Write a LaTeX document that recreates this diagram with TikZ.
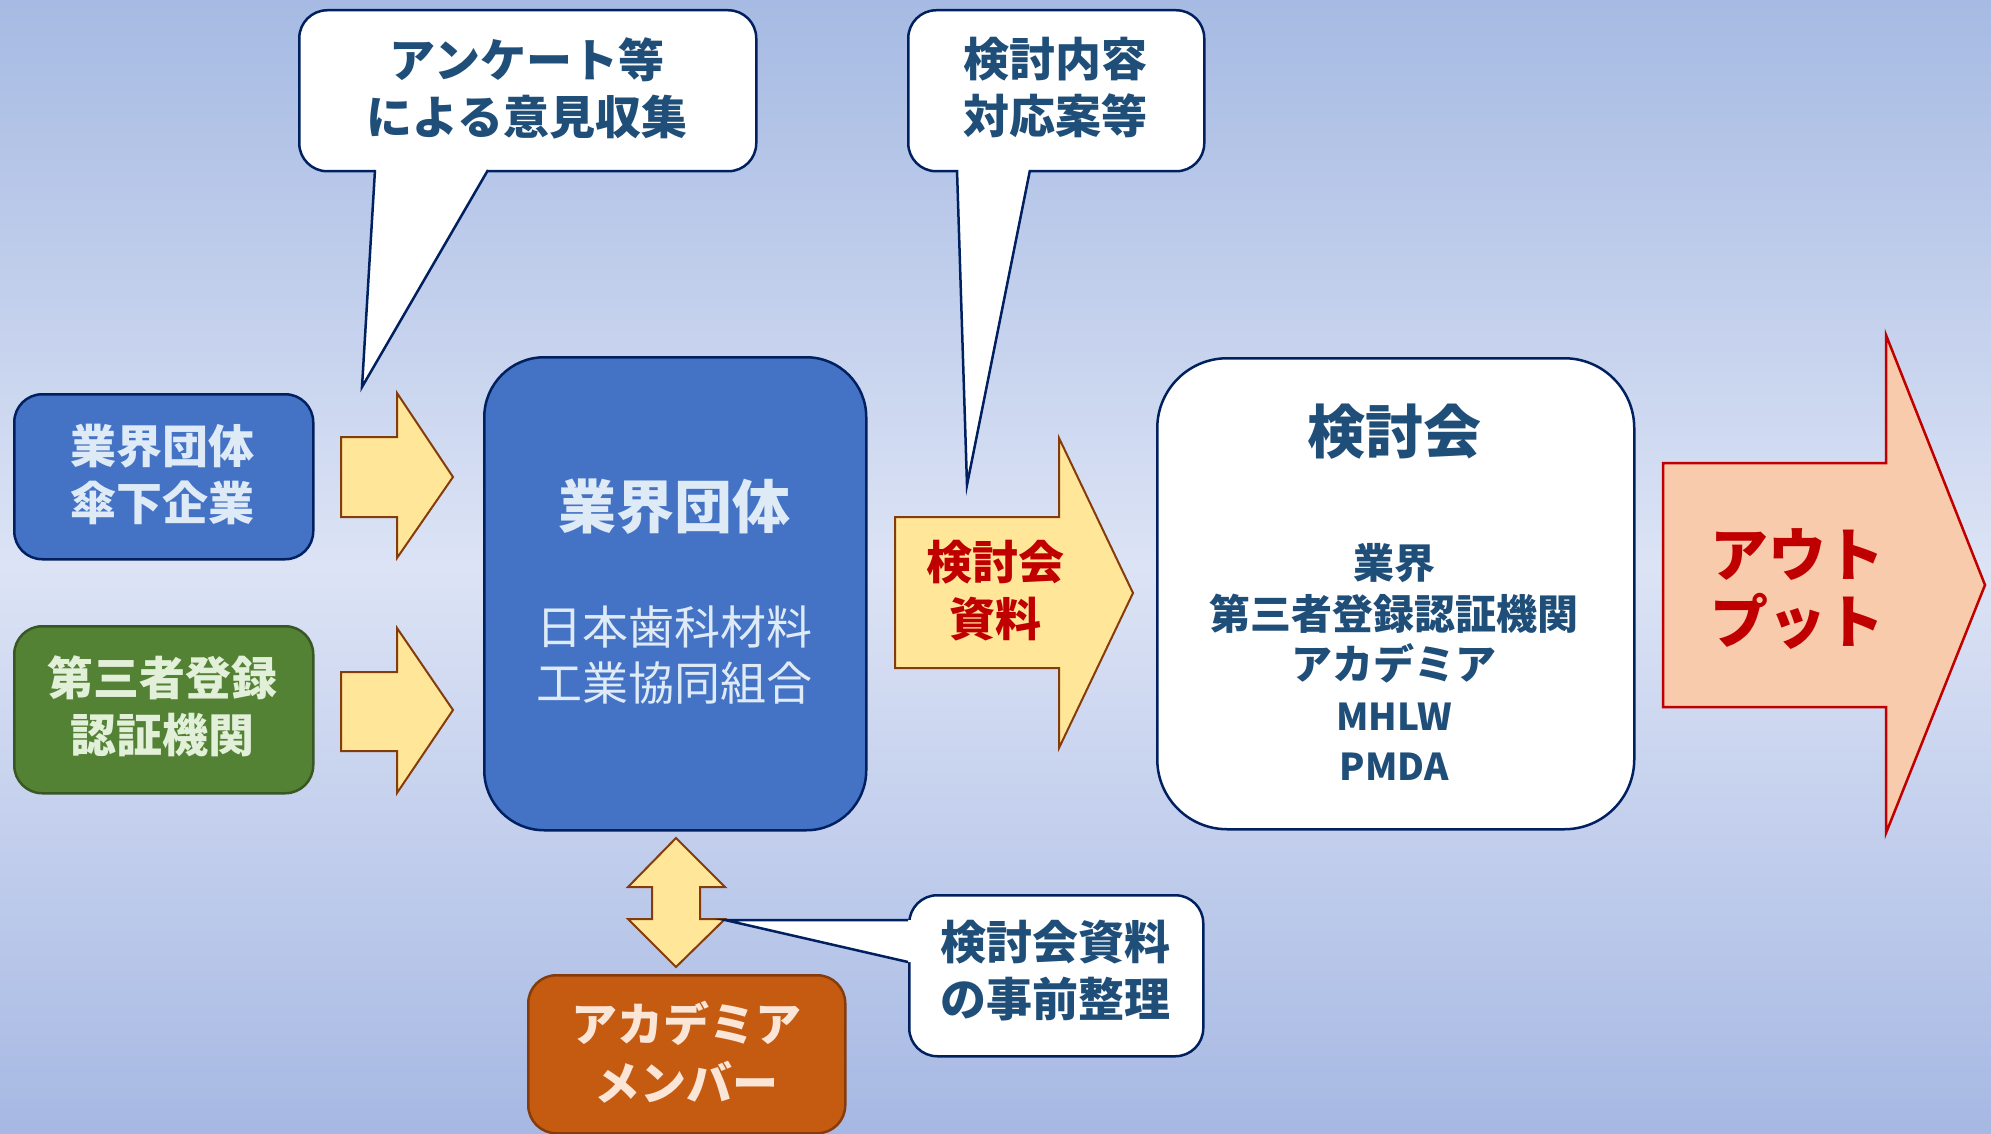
\documentclass[tikz,border=0pt]{standalone}
\usepackage{fontspec}
\setmainfont{Noto Sans CJK JP}
\definecolor{bgtop}{HTML}{A6BAE3}
\definecolor{bgmid}{HTML}{DCE3F5}
\definecolor{bgbot}{HTML}{A6B8E3}
\definecolor{navy}{HTML}{002060}
\definecolor{bluefill}{HTML}{4472C4}
\definecolor{lighttext}{HTML}{DEEBF7}
\definecolor{greenfill}{HTML}{548235}
\definecolor{greenline}{HTML}{385723}
\definecolor{greentext}{HTML}{E2F0D9}
\definecolor{yellowfill}{HTML}{FFE699}
\definecolor{brownline}{HTML}{843C0C}
\definecolor{darkred}{HTML}{C00000}
\definecolor{salmon}{HTML}{F8CBAD}
\definecolor{darkblue}{HTML}{1F4E79}
\definecolor{orangefill}{HTML}{C55A11}
\definecolor{orangetext}{HTML}{FBE5D6}
\tikzset{
  bx/.style={draw=navy, line width=2.5pt, rounded corners=28pt, anchor=north west, inner sep=0pt},
  callbox/.style={bx, fill=white},
  tailline/.style={draw=navy, line width=2.5pt, line join=miter},
  txt/.style={align=center, inner sep=0pt, font=\bfseries\fontsize{46}{57}\selectfont},
  yarrow/.style={fill=yellowfill, draw=brownline, line width=2pt, line join=miter},
}
\begin{document}
\begin{tikzpicture}[x=1pt,y=-1pt]
\useasboundingbox (0,0) rectangle (1991,1134);
\shade[top color=bgtop, bottom color=bgbot, middle color=bgmid] (0,0) rectangle (1991,1134);

% left boxes
\node[bx, fill=bluefill, minimum width=299pt, minimum height=165pt] (ind) at (13,393) {};
\node[txt, text=lighttext] (indt) at (162.5,474) {業界団体\\傘下企業};
\node[bx, draw=greenline, fill=greenfill, minimum width=299pt, minimum height=167pt] (cert) at (13,625) {};
\node[txt, text=greentext] (certt) at (162.5,706) {第三者登録\\認証機関};

% yellow arrows
\draw[yarrow] (341,437) -- (397,437) -- (397,393) -- (453,477) -- (397,558) -- (397,517) -- (341,517) -- cycle;
\draw[yarrow] (341,672) -- (397,672) -- (397,628) -- (453,710) -- (397,793) -- (397,751) -- (341,751) -- cycle;

% central box
\node[bx, fill=bluefill, rounded corners=60pt, minimum width=382pt, minimum height=473pt] (grp) at (483,356) {};
\node[txt, text=lighttext, font=\bfseries\fontsize{58}{70}\selectfont] (grpt) at (674,507) {業界団体};
\node[txt, text=lighttext, font=\fontsize{46}{56}\selectfont] (grps) at (674,655) {日本歯科材料\\工業協同組合};

% arrow to meeting
\draw[yarrow] (895,517) -- (1059,517) -- (1059,438) -- (1133,593) -- (1059,748) -- (1059,668) -- (895,668) -- cycle;
\node[txt, text=darkred] (mat) at (995,591) {検討会\\資料};

% meeting box
\node[bx, fill=white, rounded corners=70pt, minimum width=477pt, minimum height=471pt] (mtg) at (1156,357) {};
\node[txt, text=darkblue, font=\bfseries\fontsize{58}{70}\selectfont] (mtgt) at (1394,432) {検討会};
\node[txt, text=darkblue, font=\bfseries\fontsize{41}{50.5}\selectfont] (mtgm) at (1394,662) {業界\\第三者登録認証機関\\アカデミア\\{\fontsize{37}{50.5}\selectfont MHLW}\\{\fontsize{37}{50.5}\selectfont PMDA}};

% output arrow
\draw[fill=salmon, draw=darkred, line width=2.5pt, line join=miter] (1663,463) -- (1886,463) -- (1886,335) -- (1985,585) -- (1886,833) -- (1886,707) -- (1663,707) -- cycle;
\node[txt, text=darkred, font=\bfseries\fontsize{58}{67}\selectfont] (out) at (1797,589) {アウト\\プット};

% double arrow
\draw[yarrow] (676,838) -- (725,887) -- (700,887) -- (700,919) -- (725,919) -- (676,967) -- (628,919) -- (652,919) -- (652,887) -- (628,887) -- cycle;

% academia box
\node[bx, draw=brownline, fill=orangefill, minimum width=317pt, minimum height=158pt] (acad) at (527,974) {};
\node[txt, text=orangetext, font=\bfseries\fontsize{46}{59}\selectfont] (acadt) at (686,1052) {アカデミア\\メンバー};

% callout 1
\node[callbox, minimum width=457pt, minimum height=161pt] (c1) at (298,9) {};
\coordinate (c1tip) at (362,387);
\fill[white] (375,160) -- (375,170) -- (c1tip) -- (488,170) -- (488,160) -- cycle;
\draw[tailline] (375,170) -- (c1tip) -- (488,170);
\node[txt, text=darkblue] (c1t) at (527,88) {アンケート等\\による意見収集};

% callout 2
\node[callbox, minimum width=296pt, minimum height=161pt] (c2) at (907,9) {};
\coordinate (c2tip) at (967,485);
\fill[white] (957,160) -- (957,170) -- (c2tip) -- (1030,170) -- (1030,160) -- cycle;
\draw[tailline] (957,170) -- (c2tip) -- (1030,170);
\node[txt, text=darkblue] (c2t) at (1055,88) {検討内容\\対応案等};

% callout 3
\node[callbox, minimum width=294pt, minimum height=161pt] (c3) at (908,894) {};
\coordinate (c3tip) at (725,920);
\fill[white] (918,920) -- (908,920) -- (c3tip) -- (908,962) -- (918,962) -- cycle;
\draw[tailline] (908,920) -- (c3tip) -- (908,962);
\node[txt, text=darkblue] (c3t) at (1055,971) {検討会資料\\の事前整理};
\end{tikzpicture}
\end{document}
